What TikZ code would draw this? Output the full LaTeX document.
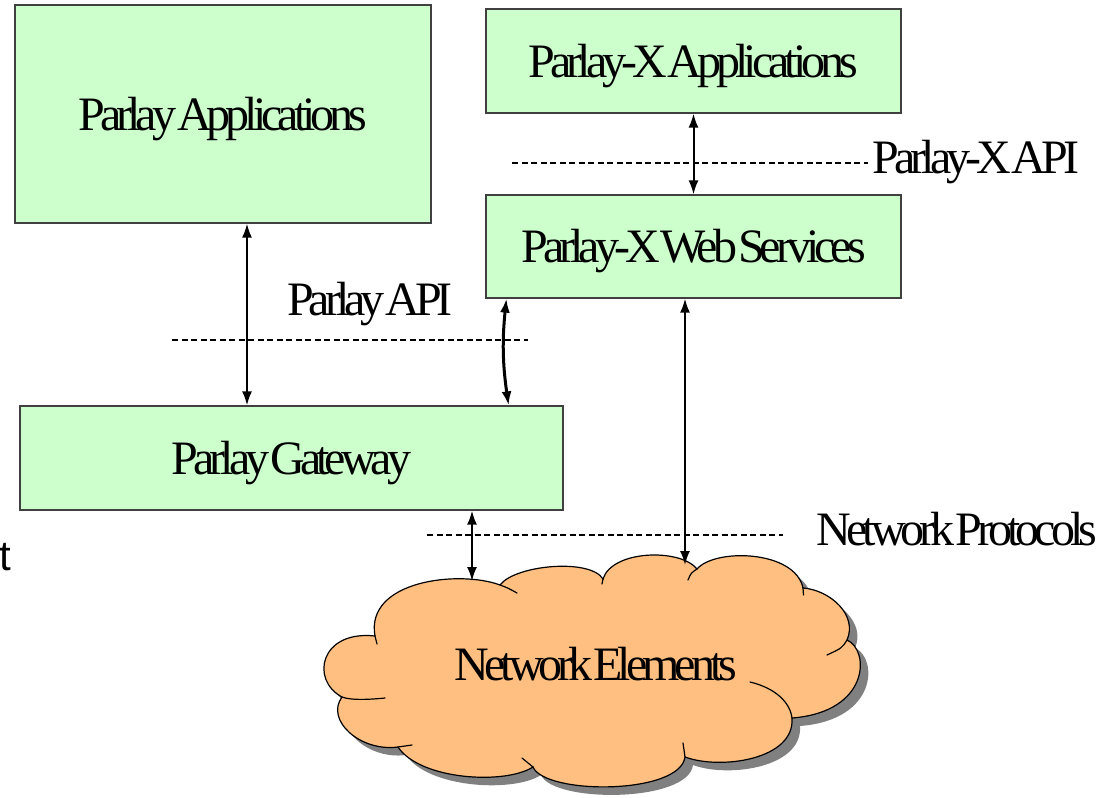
\documentclass[tikz,border=0pt]{standalone}
\usepackage{fontspec}
\setmainfont{Liberation Serif}
\newfontfamily\labelfont[LetterSpace=-10.4, WordSpace=0.12]{Liberation Serif}
\newfontfamily\sidefont{Liberation Sans}
\usetikzlibrary{arrows.meta,calc}

\definecolor{boxgreen}{HTML}{CCFFCC}
\definecolor{cloudorange}{HTML}{FFBF80}
\definecolor{shadowgray}{HTML}{808080}

% outline of the network cloud (lobes joined end to end)
\newcommand\cloudoutline{(375,636) .. controls (365,580) and (460,570) .. (500,585)
  .. controls (515,565) and (590,558) .. (603,579)
  .. controls (612,550) and (680,548) .. (697,569)
  .. controls (715,548) and (795,550) .. (803,588)
  .. controls (830,590) and (858,615) .. (847,640)
  .. controls (870,650) and (870,712) .. (792,718)
  .. controls (795,760) and (720,770) .. (685,757)
  .. controls (680,795) and (545,795) .. (533,767)
  .. controls (505,785) and (420,780) .. (398,747)
  .. controls (360,752) and (325,720) .. (342,697)
  .. controls (310,680) and (320,630) .. (375,636) -- cycle}

\tikzset{
  txt/.style={font=\labelfont\fontsize{48}{50}\selectfont, text height=32pt, text depth=0pt, inner sep=0pt},
  box/.style={txt, draw=black!75, line width=1.2pt, fill=boxgreen},
  dbl/.style={{Latex[length=14pt,width=10pt]}-{Latex[length=14pt,width=10pt]}, line width=2pt},
  sep/.style={line width=2.5pt, dash pattern=on 6pt off 3.5pt},
  lobe/.style={line width=1.2pt, line cap=round}
}

\begin{document}
\begin{tikzpicture}[x=1pt, y=-1pt]
  \useasboundingbox (0,0) rectangle (1106,798);

  % application and gateway boxes
  \node[box, minimum width=416pt, minimum height=218pt] (PA) at (223,114) {Parlay Applications};
  \node[box, minimum width=415pt, minimum height=104pt] (PXA) at (693.5,61) {Parlay-X Applications};
  \node[box, minimum width=415pt, minimum height=103pt] (PXWS) at (693.5,246.5) {Parlay-X Web Services};
  \node[box, minimum width=543pt, minimum height=104pt] (PG) at (291.5,458) {Parlay Gateway};

  % network cloud with its shadow
  \fill[shadowgray, shift={(8,8)}] \cloudoutline;
  \fill[cloudorange] \cloudoutline;
  \draw[lobe] \cloudoutline;
  \draw[lobe] (377,644) -- (375,636);
  \draw[lobe] (500,585) .. controls (508,588) .. (517,593);
  \draw[lobe] (603,579) -- (602,584);
  \draw[lobe] (688,580) .. controls (691,573) .. (697,569);
  \draw[lobe] (803,588) -- (803.5,595);
  \draw[lobe] (847,640) .. controls (842,648) .. (827,655);
  \draw[lobe] (750,682) .. controls (775,688) and (790,702) .. (792,718);
  \draw[lobe] (685,757) -- (683,743);
  \draw[lobe] (533,767) -- (522,758);
  \draw[lobe] (398,747) -- (412,745);
  \draw[lobe] (342,697) .. controls (350,700) and (365,700) .. (385,698);
  \node[txt] (NE) at (596,664) {Network Elements};
  \coordinate (netop1) at (472,581);
  \coordinate (netop2) at (685,565);

  % interface boundaries
  \coordinate (api1) at (172,340);  \coordinate (api2) at (528,340);
  \coordinate (xapi1) at (512,163); \coordinate (xapi2) at (868,163);
  \coordinate (np1) at (427,535);   \coordinate (np2) at (783,535);
  \draw[sep] (api1) -- (api2);
  \draw[sep] (xapi1) -- (xapi2);
  \draw[sep] (np1) -- (np2);
  \node[txt, anchor=base] (lapi) at (370,315) {Parlay API};
  \node[txt, anchor=base] (lxapi) at (976,173) {Parlay-X API};
  \node[txt, anchor=base] (lnp) at (957,545) {Network Protocols};

  % connections
  \draw[dbl] ([xshift=24pt]PA.south) -- ([xshift=24pt]PA.south |- PG.north);
  \draw[dbl] (PXA.south) -- (PXWS.north);
  \draw[dbl, line width=3pt] ([xshift=21pt]PXWS.south west) to[bend right=7] ([xshift=-55pt]PG.north east);
  \draw[dbl] (netop1 |- PG.south) -- (netop1);
  \draw[dbl] (netop2 |- PXWS.south) -- (netop2);

  % text entering from the left edge
  \node[font=\sidefont\fontsize{42}{44}\selectfont, anchor=base west, inner sep=0pt] (side) at (-1,570) {t};
\end{tikzpicture}
\end{document}
